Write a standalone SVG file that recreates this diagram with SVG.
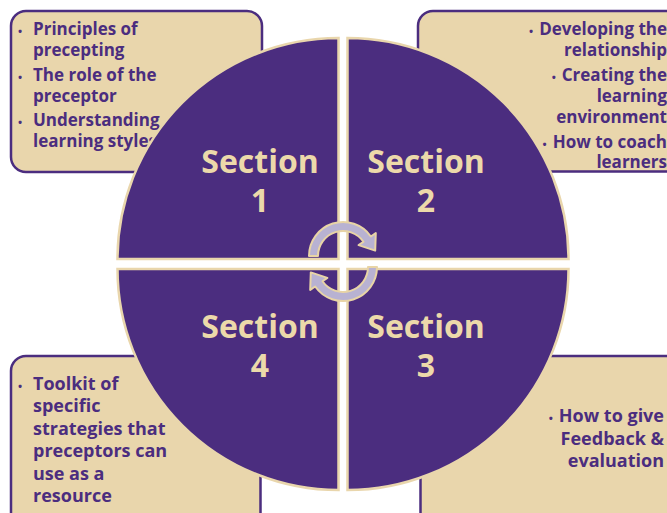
<svg xmlns="http://www.w3.org/2000/svg" width="667" height="513" viewBox="0 0 667 513">
  <style>
    .box { fill: #e9d6ac; stroke: #4b2d7f; stroke-width: 2.5; }
    .quad { fill: #4b2d7f; stroke: #e9d6ac; stroke-width: 2.5; }
    .item { font-family: "Open Sans", "DejaVu Sans", sans-serif; font-weight: 700; font-size: 17px; fill: #4b2d7f; }
    .big { font-size: 18px; }
    .bul { font-size: 11px; }
    .sec { font-family: "Open Sans", "DejaVu Sans", sans-serif; font-weight: 700; font-size: 32px; fill: #ecd9aa; text-anchor: middle; }
    .cyc { fill: #b8b2d2; stroke: #e8d4a6; stroke-width: 2; stroke-linejoin: round; }
  </style>

  <!-- topic boxes -->
  <g id="box1">
    <rect class="box" x="11" y="11" width="251" height="161" rx="15"/>
    <text class="item"><tspan class="bul" x="18" y="35">•</tspan><tspan x="33" y="35">Principles of</tspan><tspan x="33" y="56">precepting</tspan></text>
    <text class="item"><tspan class="bul" x="18" y="80.5">•</tspan><tspan x="33" y="80.5">The role of the</tspan><tspan x="33" y="101.5">preceptor</tspan></text>
    <text class="item"><tspan class="bul" x="18" y="126">•</tspan><tspan x="33" y="126">Understanding</tspan><tspan x="33" y="147">learning styles</tspan></text>
  </g>
  <g id="box2">
    <rect class="box" x="418" y="11" width="270" height="160.5" rx="15"/>
    <text class="item" text-anchor="end" x="667" y="35"><tspan class="bul">•</tspan><tspan dx="6">Developing the</tspan></text>
    <text class="item" text-anchor="end" x="667" y="56">relationship</text>
    <text class="item" text-anchor="end" x="667" y="80.5"><tspan class="bul">•</tspan><tspan dx="6">Creating the</tspan></text>
    <text class="item" text-anchor="end" x="667" y="101.5">learning</text>
    <text class="item" text-anchor="end" x="667" y="122.5">environment</text>
    <text class="item" text-anchor="end" x="667" y="147.5"><tspan class="bul">•</tspan><tspan dx="6">How to coach</tspan></text>
    <text class="item" text-anchor="end" x="667" y="168">learners</text>
  </g>
  <g id="box4">
    <rect class="box" x="11" y="356" width="249.5" height="180" rx="15"/>
    <text class="item big"><tspan class="bul" x="18" y="390">•</tspan><tspan x="33" y="390">Toolkit of</tspan><tspan x="33" y="412">specific</tspan><tspan x="33" y="434.5">strategies that</tspan><tspan x="33" y="457">preceptors can</tspan><tspan x="33" y="479.5">use as a</tspan><tspan x="33" y="502">resource</tspan></text>
  </g>
  <g id="box3">
    <rect class="box" x="420.5" y="356" width="270" height="180" rx="15"/>
    <text class="item big" text-anchor="end" x="664" y="422"><tspan class="bul">•</tspan><tspan dx="6">How to give</tspan></text>
    <text class="item big" text-anchor="end" x="664" y="444.5">Feedback &amp;</text>
    <text class="item big" text-anchor="end" x="664" y="467">evaluation</text>
  </g>

  <!-- four quadrants of the cycle -->
  <g id="section1">
    <path class="quad" d="M338.5,259 L117.5,259 A221,221 0 0 1 338.5,38 Z"/>
    <text class="sec" x="260" y="173">Section</text>
    <text class="sec" x="260" y="212">1</text>
  </g>
  <g id="section2">
    <path class="quad" d="M347.5,259 L347.5,38 A221,221 0 0 1 568.5,259 Z"/>
    <text class="sec" x="426" y="173">Section</text>
    <text class="sec" x="426" y="212">2</text>
  </g>
  <g id="section3">
    <path class="quad" d="M347.5,269 L568.5,269 A221,221 0 0 1 347.5,490 Z"/>
    <text class="sec" x="426" y="338">Section</text>
    <text class="sec" x="426" y="377">3</text>
  </g>
  <g id="section4">
    <path class="quad" d="M338.5,269 L338.5,490 A221,221 0 0 1 117.5,269 Z"/>
    <text class="sec" x="260" y="338">Section</text>
    <text class="sec" x="260" y="377">4</text>
  </g>

  <!-- circular arrows in the centre -->
  <g id="connectors">
    <path id="cycle-top" class="cyc" d="M309,256 A34,34 0 0 1 370.85,236.5 L375.8,233 L375.2,250.6 L358.6,245.1 L363.5,241.7 A25,25 0 0 0 318,256 Z"/>
    <path id="cycle-bottom" class="cyc" transform="rotate(180 343 261.5)" d="M309,256 A34,34 0 0 1 370.85,236.5 L375.8,233 L375.2,250.6 L358.6,245.1 L363.5,241.7 A25,25 0 0 0 318,256 Z"/>
  </g>
</svg>
